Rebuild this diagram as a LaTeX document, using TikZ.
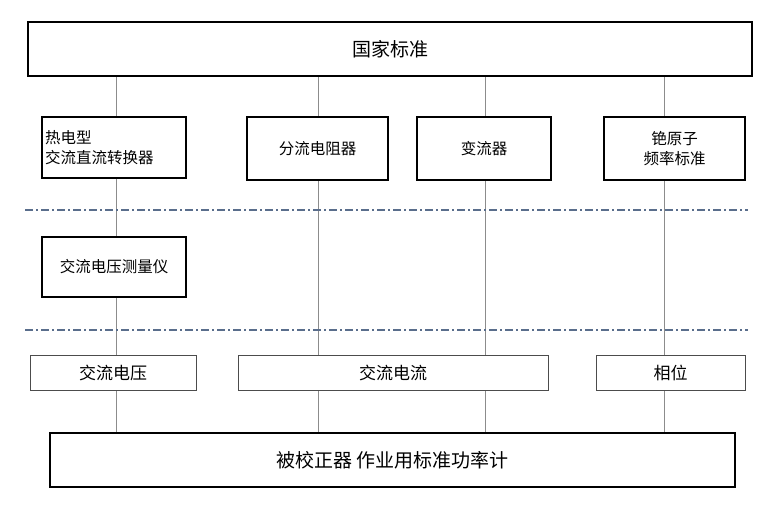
\documentclass[tikz,border=0pt]{standalone}
\usepackage{fontspec}
\setmainfont{Noto Sans CJK SC}
\begin{document}
\begin{tikzpicture}[x=1pt,y=-1pt,
  thick box/.style={draw=black,line width=2.2pt,fill=white,inner sep=0pt},
  thin box/.style={draw=black!70,line width=0.9pt,fill=white,inner sep=0pt},
  vline/.style={draw=black!45,line width=0.8pt},
  sep/.style={draw={rgb,255:red,90;green,110;blue,140},line width=1.2pt,dash pattern=on 8pt off 3pt on 2pt off 3pt},
  big/.style={font=\fontsize{19}{21}\selectfont},
  mid/.style={font=\fontsize{15.5}{20}\selectfont},
  lab/.style={font=\fontsize{17}{19}\selectfont}]
\useasboundingbox (0,0) rectangle (781,509);
\coordinate (t1) at (116,76); \coordinate (t2) at (318,76);
\coordinate (t3) at (485,76); \coordinate (t4) at (664,76);
\coordinate (b1) at (116,433); \coordinate (b2) at (318,433);
\coordinate (b3) at (485,433); \coordinate (b4) at (664,433);
\draw[vline] (t1)--(b1); \draw[vline] (t2)--(b2);
\draw[vline] (t3)--(b3); \draw[vline] (t4)--(b4);
\coordinate (s1a) at (25,210); \coordinate (s1b) at (748,210);
\coordinate (s2a) at (25,330); \coordinate (s2b) at (748,330);
\draw[sep] (s1a)--(s1b); \draw[sep] (s2a)--(s2b);
\node[thick box,minimum width=724,minimum height=54,big] (top) at (390,49) {国家标准};
\node[thick box,minimum width=144,minimum height=61,mid,align=left,text width=138] (a) at (114,147.5) {热电型\\交流直流转换器};
\node[thick box,minimum width=141,minimum height=63,mid] (b) at (317.5,148.5) {分流电阻器};
\node[thick box,minimum width=134,minimum height=63,mid] (c) at (484,148.5) {变流器};
\node[thick box,minimum width=141,minimum height=63,mid,align=center] (d) at (674.5,148.5) {铯原子\\频率标准};
\node[thick box,minimum width=144,minimum height=60,mid] (e) at (114,267) {交流电压测量仪};
\node[thin box,minimum width=166,minimum height=35,lab] (f) at (113,372.5) {交流电压};
\node[thin box,minimum width=310,minimum height=35,lab] (g) at (393,372.5) {交流电流};
\node[thin box,minimum width=149,minimum height=35,lab] (h) at (670.5,372.5) {相位};
\node[thick box,minimum width=685,minimum height=54,big] (bot) at (392.5,460) {被校正器 作业用标准功率计};
\end{tikzpicture}
\end{document}
